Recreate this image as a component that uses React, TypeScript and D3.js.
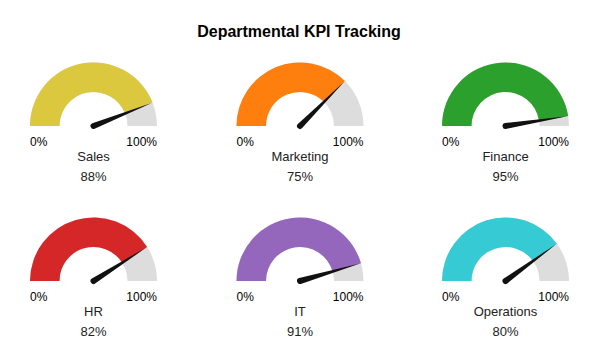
import React from "react";
import * as d3 from "d3";

const departments = ["Sales", "Marketing", "Finance", "HR", "IT", "Operations"];
const values = [88, 75, 95, 82, 91, 80];
const colors = ["#dcc83f", "#ff7f0e", "#2ca02c", "#d62728", "#9467bd", "#36cbd4"];
const tickLabels = ["0%", "100%"];

const W = 598;
const H = 359;
const colX = [93.5, 300, 505.5];
const rowY = [126, 281];
const outerR = 63.5;
const innerR = 34;

export default function App() {
  const angle = d3.scaleLinear().domain([0, 100]).range([-Math.PI / 2, Math.PI / 2]);
  const arc = d3.arc<any>().innerRadius(innerR).outerRadius(outerR);

  return (
    <svg width={W} height={H} style={{ position: "absolute", left: 0, top: 0 }} fontFamily="'Liberation Sans', Arial, sans-serif">
      <rect width={W} height={H} fill="#fff" />
      <text x={299} y={37} textAnchor="middle" fontSize={16} fontWeight="bold" fill="#000">
        Departmental KPI Tracking
      </text>
      {departments.map((d, i) => {
        const cx = colX[i % 3];
        const cy = rowY[Math.floor(i / 3)];
        const v = values[i];
        const a = angle(v);
        const bg = arc({ startAngle: angle(0), endAngle: angle(100) }) as string;
        const fg = arc({ startAngle: angle(0), endAngle: a }) as string;
        const len = outerR - 1;
        const tipX = Math.sin(a) * len;
        const tipY = -Math.cos(a) * len;
        const bw = 3;
        const px = Math.cos(a) * bw;
        const py = Math.sin(a) * bw;
        const needle = `M${px},${py} L${tipX},${tipY} L${-px},${-py} A${bw},${bw} 0 0 0 ${px},${py} Z`;
        return (
          <g key={d} transform={`translate(${cx},${cy})`}>
            <path d={bg} fill="#dddddd" />
            <path d={fg} fill={colors[i]} />
            <path d={needle} fill="#111" />
            <text x={-outerR} y={20} fontSize={12} textAnchor="start" fill="#000">{tickLabels[0]}</text>
            <text x={outerR} y={20} fontSize={12} textAnchor="end" fill="#000">{tickLabels[1]}</text>
            <text x={0} y={35} fontSize={13} textAnchor="middle" fill="#222">{d}</text>
            <text x={0} y={55} fontSize={13} textAnchor="middle" fill="#222">{`${v}%`}</text>
          </g>
        );
      })}
    </svg>
  );
}
